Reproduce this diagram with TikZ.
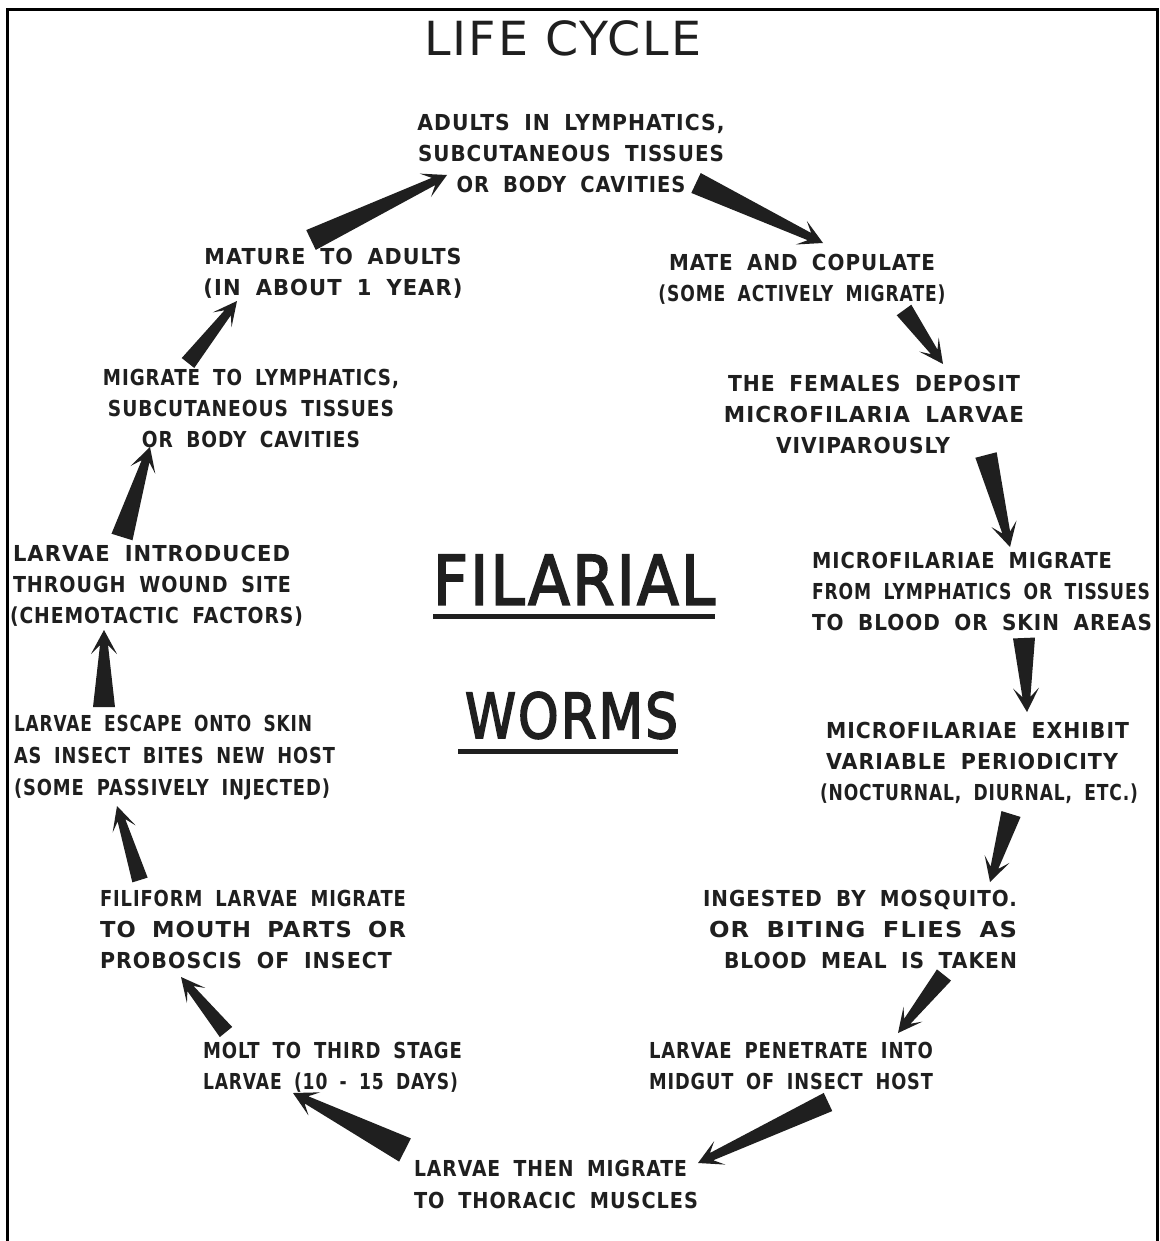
\documentclass[tikz,border=0pt]{standalone}
\usepackage{fontspec}
\setmainfont{DejaVu Sans}
\newfontfamily\hand{DejaVu Sans}[LetterSpace=5, WordSpace=1.8]
\newfontfamily\heavy{DejaVu Sans}[FakeBold=3, LetterSpace=4]
\newfontfamily\thin{DejaVu Sans}[LetterSpace=4]
\usepackage{graphicx}
\usetikzlibrary{calc}
\definecolor{ink}{gray}{0.12}
\newcommand\lw[2]{\resizebox{#1pt}{\height}{#2}}
\newcommand\filarrow[5]{%
  \path ($(#2)!15pt!(#1)$) coordinate (fan) ($(#2)!24pt!(#1)$) coordinate (fab);
  \fill[ink] ($(#1)!#3pt!90:(#2)$) -- ($(fan)!#4pt!90:(#2)$) -- ($(fab)!#5pt!90:(#2)$)
     -- (#2) -- ($(fab)!#5pt!-90:(#2)$) -- ($(fan)!#4pt!-90:(#2)$) -- ($(#1)!#3pt!-90:(#2)$) -- cycle;
}
\tikzset{
  txt/.style={inner sep=0pt, outer sep=0pt, text=ink, font=\fontsize{22}{31}\hand\bfseries},
  big/.style={inner sep=0pt, outer sep=0pt, text=ink},
  frame/.style={line width=3pt, black}
}
\begin{document}
\begin{tikzpicture}[x=1pt,y=-1pt]
\useasboundingbox (0,0) rectangle (1159,1241);
\fill[white] (0,0) rectangle (1159,1241);
\draw[frame] (7,1245) -- (7,9.5) -- (1157.5,9.5) -- (1157.5,1245);

% titles
\node[big, anchor=north, font=\fontsize{47}{50}\thin] (title) at (563,21) {\lw{277}{LIFE CYCLE}};
\node[big, anchor=north west, font=\fontsize{68}{70}\heavy] (filarial) at (433,555) {\lw{282}{FILARIAL}};
\node[big, anchor=north west, font=\fontsize{62}{64}\heavy] (worms) at (465,692) {\lw{213}{WORMS}};
\draw[line width=5pt, ink] ($(filarial.south west)+(0,12)$) -- ($(filarial.south east)+(0,12)$);
\draw[line width=5pt, ink] ($(worms.south west)+(-7,13)$) -- ($(worms.south east)+(0,13)$);

% stages
\node[txt, anchor=north, align=center] (adults) at (571,114)
  {\lw{307}{ADULTS IN LYMPHATICS,}\\ \lw{306}{SUBCUTANEOUS TISSUES}\\ \lw{229}{OR BODY CAVITIES}};
\node[txt, anchor=north, align=center] (mate) at (802,254)
  {\lw{266}{MATE AND COPULATE}\\ \lw{287}{(SOME ACTIVELY MIGRATE)}};
\node[txt, anchor=north, align=center] (females) at (874,375)
  {\lw{292}{THE FEMALES DEPOSIT}\\ \lw{300}{MICROFILARIA LARVAE}\\ \lw{174}{VIVIPAROUSLY}\hspace*{22pt}};
\node[txt, anchor=north west, align=left] (micromig) at (812,552)
  {\lw{300}{MICROFILARIAE MIGRATE}\\ \lw{338}{FROM LYMPHATICS OR TISSUES}\\ \lw{340}{TO BLOOD OR SKIN AREAS}};
\node[txt, anchor=north west, align=left] (exhibit) at (826,722)
  {\lw{303}{MICROFILARIAE EXHIBIT}\\ \lw{292}{VARIABLE PERIODICITY}\\ \hspace*{-6pt}\lw{318}{(NOCTURNAL, DIURNAL, ETC.)}};
\node[txt, anchor=north east, align=right] (ingested) at (1017,890)
  {\lw{314}{INGESTED BY MOSQUITO.}\\ \lw{308}{OR BITING FLIES AS}\\ \lw{293}{BLOOD MEAL IS TAKEN}};
\node[txt, anchor=north west, align=left] (penetrate) at (649,1042)
  {\lw{284}{LARVAE PENETRATE INTO}\\ \lw{284}{MIDGUT OF INSECT HOST}};
\node[txt, anchor=north west, align=left, font=\fontsize{22}{32}\hand\bfseries] (thoracic) at (414,1160)
  {\lw{273}{LARVAE THEN MIGRATE}\\ \lw{284}{TO THORACIC MUSCLES}};
\node[txt, anchor=north west, align=left] (molt) at (203,1042)
  {\lw{259}{MOLT TO THIRD STAGE}\\ \lw{255}{LARVAE (10 - 15 DAYS)}};
\node[txt, anchor=north west, align=left] (filiform) at (100,890)
  {\lw{306}{FILIFORM LARVAE MIGRATE}\\ \lw{306}{TO MOUTH PARTS OR}\\ \lw{292}{PROBOSCIS OF INSECT}};
\node[txt, anchor=north west, align=left, font=\fontsize{22}{32}\hand\bfseries] (escape) at (14,715)
  {\lw{298}{LARVAE ESCAPE ONTO SKIN}\\ \lw{321}{AS INSECT BITES NEW HOST}\\ \lw{316}{(SOME PASSIVELY INJECTED)}};
\node[txt, anchor=north west, align=left] (introduced) at (13,545)
  {\lw{277}{LARVAE INTRODUCED}\\ \lw{278}{THROUGH WOUND SITE}\\ \hspace*{-3pt}\lw{293}{(CHEMOTACTIC FACTORS)}};
\node[txt, anchor=north, align=center] (lymph) at (251,369)
  {\lw{296}{MIGRATE TO LYMPHATICS,}\\ \lw{286}{SUBCUTANEOUS TISSUES}\\ \lw{218}{OR BODY CAVITIES}};
\node[txt, anchor=north, align=center] (mature) at (333,248)
  {\lw{257}{MATURE TO ADULTS}\\ \lw{259}{(IN ABOUT 1 YEAR)}};

% arrow ends
\coordinate (s1) at (311,240);  \coordinate (t1) at (447,175);
\coordinate (s2) at (696,183);  \coordinate (t2) at (823,243);
\coordinate (s3) at (904,310);  \coordinate (t3) at (943,364);
\coordinate (s4) at (986,455);  \coordinate (t4) at (1010,547);
\coordinate (s5) at (1024,638); \coordinate (t5) at (1027,712);
\coordinate (s6) at (1011,814); \coordinate (t6) at (990,882);
\coordinate (s7) at (944,975);  \coordinate (t7) at (898,1033);
\coordinate (s8) at (828,1102); \coordinate (t8) at (698,1163);
\coordinate (s9) at (405,1150); \coordinate (t9) at (293,1093);
\coordinate (s10) at (226,1032); \coordinate (t10) at (181,977);
\coordinate (s11) at (140,880); \coordinate (t11) at (117,806);
\coordinate (s12) at (104,707); \coordinate (t12) at (104,630);
\coordinate (s13) at (122,537); \coordinate (t13) at (150,447);
\coordinate (s14) at (188,363); \coordinate (t14) at (237,301);

\filarrow{s1}{t1}{11}{4}{13}
\filarrow{s2}{t2}{11}{4}{13}
\filarrow{s3}{t3}{9}{4}{12}
\filarrow{s4}{t4}{11}{4}{13}
\filarrow{s5}{t5}{11}{4}{13}
\filarrow{s6}{t6}{10}{4}{13}
\filarrow{s7}{t7}{9}{4}{12}
\filarrow{s8}{t8}{10}{4}{13}
\filarrow{s9}{t9}{13}{4}{13}
\filarrow{s10}{t10}{8}{4}{12}
\filarrow{s11}{t11}{8}{4}{12}
\filarrow{s12}{t12}{11}{4}{13}
\filarrow{s13}{t13}{11}{4}{13}
\filarrow{s14}{t14}{8}{4}{12}
\end{tikzpicture}
\end{document}
